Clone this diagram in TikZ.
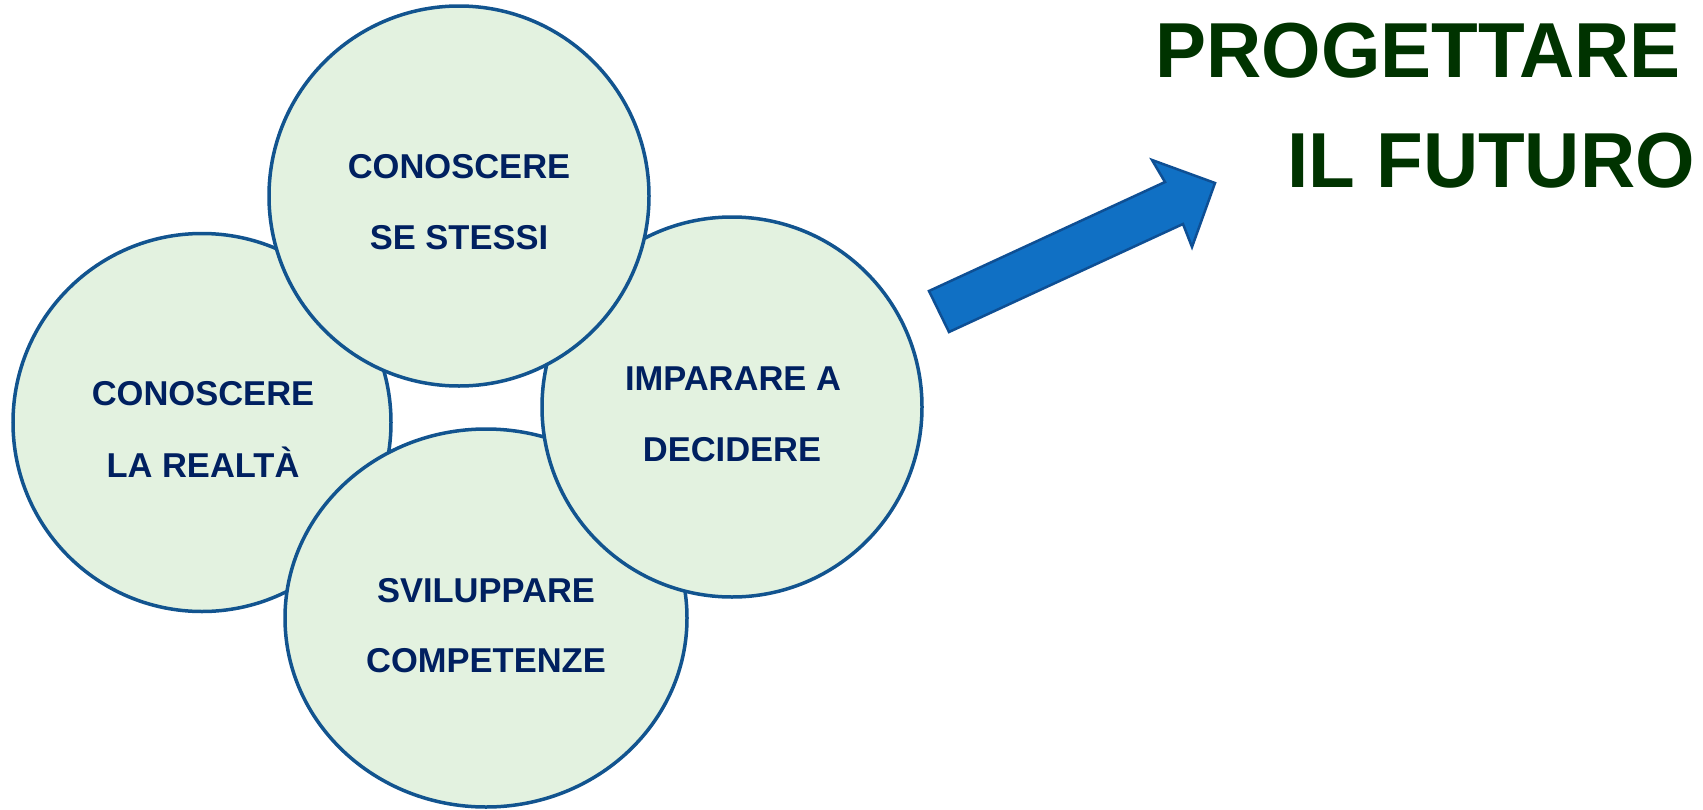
\documentclass[tikz,border=0pt]{standalone}
\usepackage{graphicx}
\usepackage{fontspec}
\setmainfont{Liberation Sans}
\usetikzlibrary{shapes.geometric}
\definecolor{ringblue}{HTML}{12548F}
\definecolor{ringfill}{HTML}{E3F2E0}
\definecolor{navy}{HTML}{002060}
\definecolor{titlegreen}{HTML}{003300}
\definecolor{arrowfill}{HTML}{1070C4}
\definecolor{arrowline}{HTML}{0E4F94}
\newcommand{\narrowtxt}[1]{\scalebox{0.98}[1]{#1}}
\begin{document}
\begin{tikzpicture}[x=1pt,y=-1pt,
  ring/.style={circle, draw=ringblue, fill=ringfill, line width=3.5pt, inner sep=0pt, minimum size=#1},
  ringell/.style={ellipse, draw=ringblue, fill=ringfill, line width=3.5pt, inner sep=0pt},
  lbl/.style={anchor=base, inner sep=0pt, text=navy, font=\bfseries\fontsize{34.5}{40}\selectfont},
  titletext/.style={anchor=base east, inner sep=0pt, text=titlegreen, font=\bfseries\fontsize{78}{80}\selectfont},
  bigarrow/.style={draw=arrowline, fill=arrowfill, line width=2.5pt, line join=miter}
]
\useasboundingbox (0,0) rectangle (1703,809);

% circles (drawing order: left, bottom, right, top)
\node[ring=378pt] (real) at (202,422.5) {};
\node[ringell, minimum width=402pt, minimum height=378pt] (comp) at (486,618) {};
\node[ring=380pt] (dec) at (732,407) {};
\node[ring=380pt] (self) at (459,196) {};

% circle texts
\node[lbl] (realA) at (203,405) {CONOSCERE};
\node[lbl] (realB) at (203,477) {LA REALTÀ};
\node[lbl] (selfA) at (459,178) {CONOSCERE};
\node[lbl] (selfB) at (459,249) {SE STESSI};
\node[lbl] (decA) at (733,390) {IMPARARE A};
\node[lbl] (decB) at (732,461) {DECIDERE};
\node[lbl] (compA) at (486,602) {SVILUPPARE};
\node[lbl] (compB) at (486,672) {COMPETENZE};

% block arrow
\draw[bigarrow] (929,291) -- (1165,182) -- (1152,160) -- (1215,183)
  -- (1192,247) -- (1183,224) -- (949,332) -- cycle;

% title
\node[titletext] (prog) at (1681,77) {\narrowtxt{PROGETTARE}};
\node[titletext] (fut) at (1695,187) {\narrowtxt{IL FUTURO}};
\end{tikzpicture}
\end{document}
